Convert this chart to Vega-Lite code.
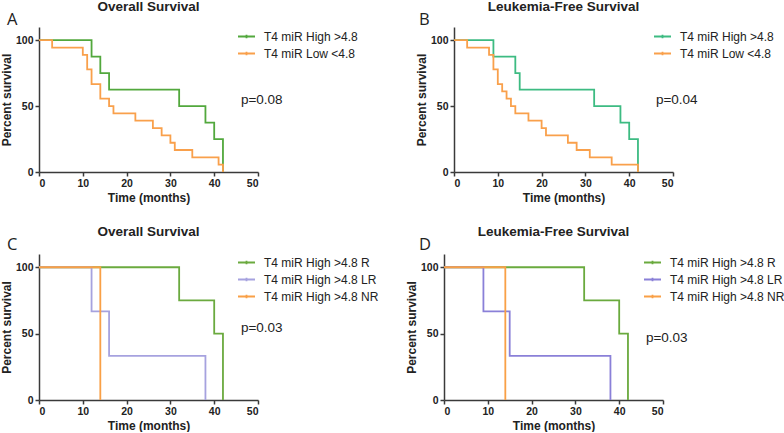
{
  "$schema": "https://vega.github.io/schema/vega-lite/v6.json",
  "padding": {"left": 0, "top": -1, "right": 0, "bottom": 0},
  "config": {
    "font": "Liberation Sans",
    "view": {"stroke": null},
    "axis": {"domainColor": "#3a3a3a", "tickColor": "#3a3a3a", "domainWidth": 1.5, "tickWidth": 1.5, "tickSize": 4, "labelFont": "Liberation Sans", "labelFontWeight": "bold", "labelFontSize": 10.5, "labelColor": "#222222", "titleFont": "Liberation Sans", "titleFontWeight": "bold", "titleFontSize": 12, "titleColor": "#222222", "grid": false, "labelPadding": 2},
    "axisX": {"titlePadding": 4},
    "axisY": {"titlePadding": 2},
    "title": {"font": "Liberation Sans", "fontSize": 13.5, "fontWeight": "bold", "color": "#222222", "anchor": "middle", "frame": "group", "baseline": "alphabetic", "offset": -1},
    "legend": {"symbolType": "M-1,0L1,0M0,-0.22L0,0.22", "symbolSize": 289, "symbolStrokeWidth": 1.8, "symbolFillColor": "transparent", "labelFont": "Liberation Sans", "labelFontSize": 12, "labelColor": "#222222", "labelOffset": 8, "rowPadding": 1, "padding": 0, "title": null, "labelLimit": 300}
  },
  "datasets": {
    "A": [
      {"t": 0, "s": 100, "g": "T4 miR High >4.8"}, {"t": 12, "s": 87.5, "g": "T4 miR High >4.8"}, {"t": 14, "s": 75, "g": "T4 miR High >4.8"}, {"t": 16, "s": 62.5, "g": "T4 miR High >4.8"}, {"t": 32, "s": 50, "g": "T4 miR High >4.8"}, {"t": 38, "s": 37.5, "g": "T4 miR High >4.8"}, {"t": 40, "s": 25, "g": "T4 miR High >4.8"}, {"t": 42, "s": 0, "g": "T4 miR High >4.8"},
      {"t": 0, "s": 100, "g": "T4 miR Low <4.8"}, {"t": 3, "s": 94.4, "g": "T4 miR Low <4.8"}, {"t": 10, "s": 88.9, "g": "T4 miR Low <4.8"}, {"t": 11, "s": 77.8, "g": "T4 miR Low <4.8"}, {"t": 12, "s": 66.7, "g": "T4 miR Low <4.8"}, {"t": 14, "s": 55.6, "g": "T4 miR Low <4.8"}, {"t": 16, "s": 50, "g": "T4 miR Low <4.8"}, {"t": 17, "s": 44.4, "g": "T4 miR Low <4.8"}, {"t": 22, "s": 38.9, "g": "T4 miR Low <4.8"}, {"t": 26, "s": 33.3, "g": "T4 miR Low <4.8"}, {"t": 28, "s": 27.8, "g": "T4 miR Low <4.8"}, {"t": 30, "s": 22.2, "g": "T4 miR Low <4.8"}, {"t": 31, "s": 16.7, "g": "T4 miR Low <4.8"}, {"t": 35, "s": 11.1, "g": "T4 miR Low <4.8"}, {"t": 41, "s": 5.6, "g": "T4 miR Low <4.8"}, {"t": 42, "s": 0, "g": "T4 miR Low <4.8"}
    ],
    "B": [
      {"t": 0, "s": 100, "g": "T4 miR High >4.8"}, {"t": 9, "s": 87.5, "g": "T4 miR High >4.8"}, {"t": 14, "s": 75, "g": "T4 miR High >4.8"}, {"t": 15, "s": 62.5, "g": "T4 miR High >4.8"}, {"t": 32, "s": 50, "g": "T4 miR High >4.8"}, {"t": 38, "s": 37.5, "g": "T4 miR High >4.8"}, {"t": 40, "s": 25, "g": "T4 miR High >4.8"}, {"t": 42, "s": 0, "g": "T4 miR High >4.8"},
      {"t": 0, "s": 100, "g": "T4 miR Low <4.8"}, {"t": 3, "s": 94.4, "g": "T4 miR Low <4.8"}, {"t": 8, "s": 88.9, "g": "T4 miR Low <4.8"}, {"t": 9, "s": 77.8, "g": "T4 miR Low <4.8"}, {"t": 10, "s": 66.7, "g": "T4 miR Low <4.8"}, {"t": 11, "s": 61.1, "g": "T4 miR Low <4.8"}, {"t": 12, "s": 55.6, "g": "T4 miR Low <4.8"}, {"t": 13, "s": 50, "g": "T4 miR Low <4.8"}, {"t": 14, "s": 44.4, "g": "T4 miR Low <4.8"}, {"t": 17, "s": 38.9, "g": "T4 miR Low <4.8"}, {"t": 20, "s": 33.3, "g": "T4 miR Low <4.8"}, {"t": 21, "s": 27.8, "g": "T4 miR Low <4.8"}, {"t": 26, "s": 22.2, "g": "T4 miR Low <4.8"}, {"t": 28, "s": 16.7, "g": "T4 miR Low <4.8"}, {"t": 31, "s": 11.1, "g": "T4 miR Low <4.8"}, {"t": 36, "s": 5.6, "g": "T4 miR Low <4.8"}, {"t": 42, "s": 0, "g": "T4 miR Low <4.8"}
    ],
    "C": [
      {"t": 0, "s": 100, "g": "T4 miR High >4.8 R"}, {"t": 32, "s": 75, "g": "T4 miR High >4.8 R"}, {"t": 40, "s": 50, "g": "T4 miR High >4.8 R"}, {"t": 42, "s": 0, "g": "T4 miR High >4.8 R"},
      {"t": 0, "s": 100, "g": "T4 miR High >4.8 LR"}, {"t": 12, "s": 66.7, "g": "T4 miR High >4.8 LR"}, {"t": 16, "s": 33.3, "g": "T4 miR High >4.8 LR"}, {"t": 38, "s": 0, "g": "T4 miR High >4.8 LR"},
      {"t": 0, "s": 100, "g": "T4 miR High >4.8 NR"}, {"t": 14, "s": 0, "g": "T4 miR High >4.8 NR"}
    ],
    "D": [
      {"t": 0, "s": 100, "g": "T4 miR High >4.8 R"}, {"t": 32, "s": 75, "g": "T4 miR High >4.8 R"}, {"t": 40, "s": 50, "g": "T4 miR High >4.8 R"}, {"t": 42, "s": 0, "g": "T4 miR High >4.8 R"},
      {"t": 0, "s": 100, "g": "T4 miR High >4.8 LR"}, {"t": 9, "s": 66.7, "g": "T4 miR High >4.8 LR"}, {"t": 15, "s": 33.3, "g": "T4 miR High >4.8 LR"}, {"t": 38, "s": 0, "g": "T4 miR High >4.8 LR"},
      {"t": 0, "s": 100, "g": "T4 miR High >4.8 NR"}, {"t": 14, "s": 0, "g": "T4 miR High >4.8 NR"}
    ],
    "Ap": [{"t": 46.1, "s": 51.5, "label": "p=0.08"}],
    "Bp": [{"t": 46.1, "s": 51.5, "label": "p=0.04"}],
    "Cp": [{"t": 46.1, "s": 51, "label": "p=0.03"}],
    "Dp": [{"t": 46.1, "s": 44, "label": "p=0.03"}],
    "Al": [{"t": -7.3, "s": 111.5, "label": "A"}],
    "Bl": [{"t": -8, "s": 111.5, "label": "B"}],
    "Cl": [{"t": -7.3, "s": 113, "label": "C"}],
    "Dl": [{"t": -5.7, "s": 113, "label": "D"}]
  },
  "resolve": {"scale": {"color": "independent"}, "legend": {"color": "independent"}},
  "spacing": 20,
  "vconcat": [
    {
      "hconcat": [
        {
          "width": 219, "height": 145,
          "title": "Overall Survival",
          "layer": [
            {"data": {"name": "A"}, "mark": {"type": "line", "interpolate": "step-after", "strokeWidth": 1.8},
             "encoding": {
               "x": {"field": "t", "type": "quantitative", "scale": {"domain": [0, 50], "nice": false}, "axis": {"values": [0, 10, 20, 30, 40, 50], "title": "Time (months)"}},
               "y": {"field": "s", "type": "quantitative", "scale": {"domain": [0, 110], "nice": false}, "axis": {"values": [0, 50, 100], "title": "Percent survival"}},
               "color": {"field": "g", "type": "nominal", "scale": {"domain": ["T4 miR High >4.8", "T4 miR Low <4.8"], "range": ["#52A83D", "#F9A04B"]}, "legend": {"orient": "none", "legendX": 198, "legendY": 0}}
             }},
            {"data": {"name": "Ap"}, "mark": {"type": "text", "align": "left", "baseline": "alphabetic", "fontSize": 13.5, "font": "Liberation Sans", "color": "#222222"},
             "encoding": {"x": {"field": "t", "type": "quantitative"}, "y": {"field": "s", "type": "quantitative"}, "text": {"field": "label"}}},
            {"data": {"name": "Al"}, "mark": {"type": "text", "align": "left", "baseline": "alphabetic", "fontSize": 16.5, "font": "Open Sans", "color": "#222222"},
             "encoding": {"x": {"field": "t", "type": "quantitative"}, "y": {"field": "s", "type": "quantitative"}, "text": {"field": "label"}}}
          ]
        },
        {
          "width": 219, "height": 145,
          "title": "Leukemia-Free Survival",
          "layer": [
            {"data": {"name": "B"}, "mark": {"type": "line", "interpolate": "step-after", "strokeWidth": 1.8},
             "encoding": {
               "x": {"field": "t", "type": "quantitative", "scale": {"domain": [0, 50], "nice": false}, "axis": {"values": [0, 10, 20, 30, 40, 50], "title": "Time (months)"}},
               "y": {"field": "s", "type": "quantitative", "scale": {"domain": [0, 110], "nice": false}, "axis": {"values": [0, 50, 100], "title": "Percent survival"}},
               "color": {"field": "g", "type": "nominal", "scale": {"domain": ["T4 miR High >4.8", "T4 miR Low <4.8"], "range": ["#3DBB82", "#F9A04B"]}, "legend": {"orient": "none", "legendX": 199, "legendY": 0}}
             }},
            {"data": {"name": "Bp"}, "mark": {"type": "text", "align": "left", "baseline": "alphabetic", "fontSize": 13.5, "font": "Liberation Sans", "color": "#222222"},
             "encoding": {"x": {"field": "t", "type": "quantitative"}, "y": {"field": "s", "type": "quantitative"}, "text": {"field": "label"}}},
            {"data": {"name": "Bl"}, "mark": {"type": "text", "align": "left", "baseline": "alphabetic", "fontSize": 16.5, "font": "Open Sans", "color": "#222222"},
             "encoding": {"x": {"field": "t", "type": "quantitative"}, "y": {"field": "s", "type": "quantitative"}, "text": {"field": "label"}}}
          ]
        }
      ],
      "bounds": "flush",
      "spacing": 196,
      "resolve": {"scale": {"color": "independent"}, "legend": {"color": "independent"}}
    },
    {
      "hconcat": [
        {
          "width": 219, "height": 146,
          "title": "Overall Survival",
          "layer": [
            {"data": {"name": "C"}, "mark": {"type": "line", "interpolate": "step-after", "strokeWidth": 1.8},
             "encoding": {
               "x": {"field": "t", "type": "quantitative", "scale": {"domain": [0, 50], "nice": false}, "axis": {"values": [0, 10, 20, 30, 40, 50], "title": "Time (months)"}},
               "y": {"field": "s", "type": "quantitative", "scale": {"domain": [0, 110], "nice": false}, "axis": {"values": [0, 50, 100], "title": "Percent survival"}},
               "color": {"field": "g", "type": "nominal", "scale": {"domain": ["T4 miR High >4.8 R", "T4 miR High >4.8 LR", "T4 miR High >4.8 NR"], "range": ["#6BAA3F", "#A6A2DF", "#F9A046"]}, "legend": {"orient": "none", "legendX": 198, "legendY": -1}}
             }},
            {"data": {"name": "Cp"}, "mark": {"type": "text", "align": "left", "baseline": "alphabetic", "fontSize": 13.5, "font": "Liberation Sans", "color": "#222222"},
             "encoding": {"x": {"field": "t", "type": "quantitative"}, "y": {"field": "s", "type": "quantitative"}, "text": {"field": "label"}}},
            {"data": {"name": "Cl"}, "mark": {"type": "text", "align": "left", "baseline": "alphabetic", "fontSize": 16.5, "font": "Open Sans", "color": "#222222"},
             "encoding": {"x": {"field": "t", "type": "quantitative"}, "y": {"field": "s", "type": "quantitative"}, "text": {"field": "label"}}}
          ]
        },
        {
          "width": 219, "height": 146,
          "title": "Leukemia-Free Survival",
          "layer": [
            {"data": {"name": "D"}, "mark": {"type": "line", "interpolate": "step-after", "strokeWidth": 1.8},
             "encoding": {
               "x": {"field": "t", "type": "quantitative", "scale": {"domain": [0, 50], "nice": false}, "axis": {"values": [0, 10, 20, 30, 40, 50], "title": "Time (months)"}},
               "y": {"field": "s", "type": "quantitative", "scale": {"domain": [0, 110], "nice": false}, "axis": {"values": [0, 50, 100], "title": "Percent survival"}},
               "color": {"field": "g", "type": "nominal", "scale": {"domain": ["T4 miR High >4.8 R", "T4 miR High >4.8 LR", "T4 miR High >4.8 NR"], "range": ["#6AAA3E", "#8A80D8", "#F9A046"]}, "legend": {"orient": "none", "legendX": 199, "legendY": -1}}
             }},
            {"data": {"name": "Dp"}, "mark": {"type": "text", "align": "left", "baseline": "alphabetic", "fontSize": 13.5, "font": "Liberation Sans", "color": "#222222"},
             "encoding": {"x": {"field": "t", "type": "quantitative"}, "y": {"field": "s", "type": "quantitative"}, "text": {"field": "label"}}},
            {"data": {"name": "Dl"}, "mark": {"type": "text", "align": "left", "baseline": "alphabetic", "fontSize": 16.5, "font": "Open Sans", "color": "#222222"},
             "encoding": {"x": {"field": "t", "type": "quantitative"}, "y": {"field": "s", "type": "quantitative"}, "text": {"field": "label"}}}
          ]
        }
      ],
      "bounds": "flush",
      "spacing": 186,
      "resolve": {"scale": {"color": "independent"}, "legend": {"color": "independent"}}
    }
  ]
}
